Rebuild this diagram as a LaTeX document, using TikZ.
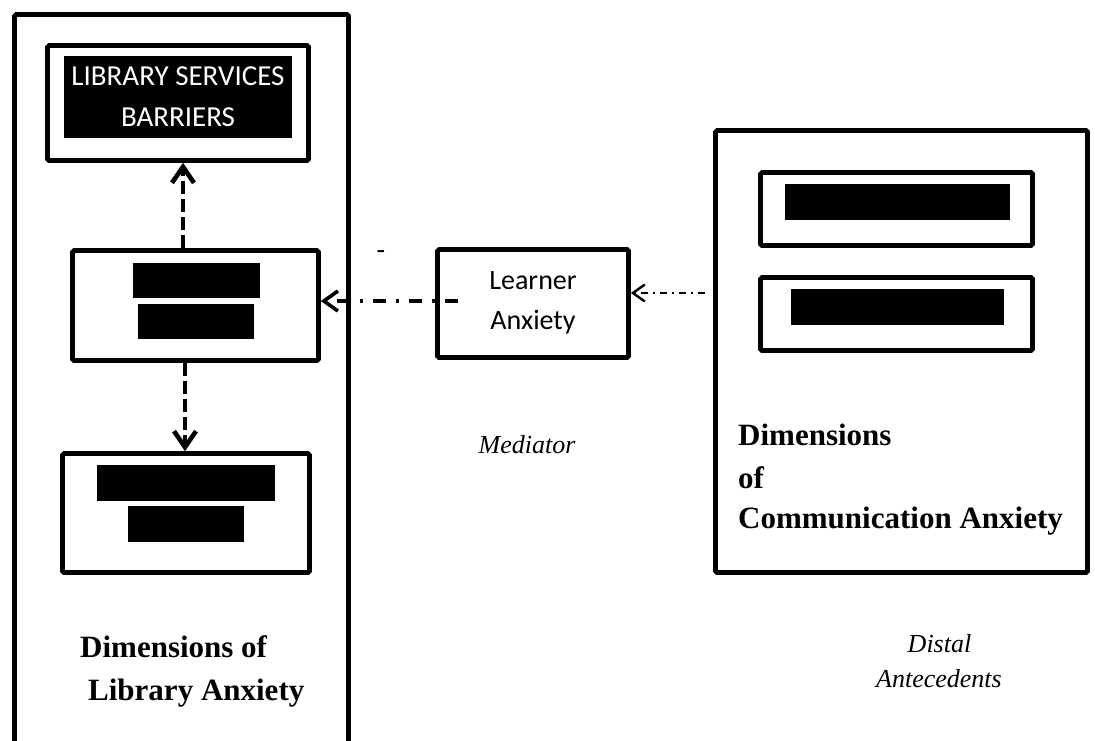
\documentclass[tikz,border=0pt]{standalone}
\usepackage{fontspec}
\setmainfont{Liberation Serif}
\newfontfamily\carl{Carlito}
\usetikzlibrary{arrows.meta}
\begin{document}
\begin{tikzpicture}[x=1pt,y=-1pt,
  box/.style={draw, line width=4.6pt, rounded corners=1.5pt, inner sep=0pt},
  bar/.style={fill=black, draw=none, inner sep=0pt},
  dimtext/.style={font=\bfseries\fontsize{31}{42}\selectfont, anchor=base west, inner sep=0pt},
  ital/.style={font=\itshape\fontsize{26}{35}\selectfont, anchor=base, inner sep=0pt},
  sanstext/.style={font=\carl\fontsize{28}{40}\selectfont, align=center, inner sep=0pt},
  vdash/.style={line width=4.6pt, dash pattern=on 13pt off 5pt, -{Straight Barb[length=16pt,width=22pt]}},
  hdash/.style={line width=3.6pt, dash pattern=on 13pt off 10pt on 3pt off 10pt, -{Straight Barb[length=14pt,width=20pt]}},
  rdash/.style={line width=2.4pt, dash pattern=on 7pt off 5pt on 2pt off 5pt, -{Straight Barb[length=12pt,width=17pt]}}
]
\path[use as bounding box, clip] (0,0) rectangle (1095,740);

% left column
\node[box, minimum width=334, minimum height=800] (louter) at (181.5,414.5) {};
\node[box, minimum width=261, minimum height=115] (lib) at (178,103) {};
\node[bar, minimum width=228, minimum height=82, text=white, font=\carl\fontsize{29}{41}\selectfont, align=center] (libbar) at (178,97) {LIBRARY SERVICES\\BARRIERS};
\node[box, minimum width=246, minimum height=110] (mid) at (195.5,305.5) {};
\node[bar, minimum width=127, minimum height=35] (midbara) at (196.5,280.5) {};
\node[bar, minimum width=116, minimum height=35] (midbarb) at (196,321.5) {};
\node[box, minimum width=247, minimum height=119] (bot) at (186,513) {};
\node[bar, minimum width=178, minimum height=36] (botbara) at (186,483) {};
\node[bar, minimum width=116, minimum height=36] (botbarb) at (186,524) {};
\node[dimtext] (ldima) at (80,657) {Dimensions of};
\node[dimtext] (ldimb) at (88,700) {Library Anxiety};

% middle
\node[box, minimum width=191, minimum height=108] (learner) at (533,303.5) {};
\node[sanstext] (learnertext) at (533,302.5) {Learner\\Anxiety};
\node[font=\carl\fontsize{28}{34}\selectfont, anchor=base, inner sep=0pt] (dash) at (381,259.5) {-};
\node[ital] (mediator) at (527,453) {Mediator};

% right column
\node[box, minimum width=372, minimum height=442] (router) at (901.5,351.5) {};
\node[box, minimum width=272, minimum height=73] (ina) at (896.5,209) {};
\node[box, minimum width=272, minimum height=73] (inb) at (896.5,314) {};
\node[bar, minimum width=225, minimum height=36] (inbara) at (897.5,202) {};
\node[bar, minimum width=213, minimum height=36] (inbarb) at (897.5,307) {};
\node[dimtext] (rdima) at (738,445) {Dimensions};
\node[dimtext] (rdimb) at (738,488) {of};
\node[dimtext] (rdimc) at (738,528) {Communication Anxiety};
\node[ital] (distal) at (939.5,652) {Distal};
\node[ital] (antec) at (939,687) {Antecedents};

% connectors
\draw[vdash] ([xshift=-12.5]mid.north) -- ([xshift=5]lib.south);
\draw[vdash] ([xshift=-10.5]mid.south) -- ([xshift=-1]bot.north);
\coordinate (ls) at (458,301);
\draw[hdash] (ls) -- (ls -| mid.east);
\coordinate (rs) at (705,293);
\draw[rdash] (rs) -- (rs -| learner.east);
\end{tikzpicture}
\end{document}
